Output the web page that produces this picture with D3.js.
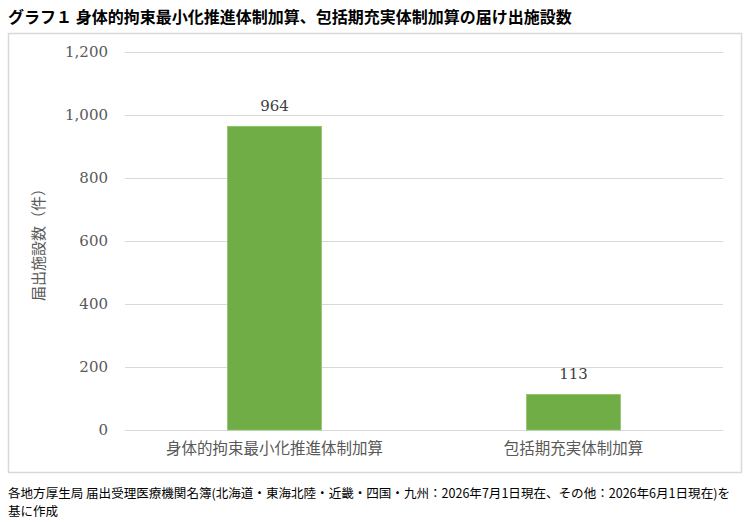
<!DOCTYPE html>
<html>
<head>
<meta charset="utf-8">
<script src="https://cdn.jsdelivr.net/npm/d3@7"></script>
<style>
  body { margin: 0; background: #fff; }
  svg { display: block; }
</style>
</head>
<body>
<div id="chart"></div>
<script>
"use strict";

var categories = ["身体的拘束最小化推進体制加算", "包括期充実体制加算"];
var counts = [964, 113];
var yTicks = [0, 200, 400, 600, 800, 1000, 1200];

var title = "グラフ１ 身体的拘束最小化推進体制加算、包括期充実体制加算の届け出施設数";
var yTitle = "届出施設数（件）";
var source = [
	"各地方厚生局 届出受理医療機関名簿(北海道・東海北陸・近畿・四国・九州：2026年7月1日現在、その他：2026年6月1日現在)を",
	"基に作成"
];

var W = 749, H = 524;
var jp = "'Noto Sans CJK JP', 'Noto Sans', sans-serif";
var serif = "'DejaVu Serif', 'Liberation Serif', serif";

var svg = d3.select("#chart").append("svg")
	.attr("width", W)
	.attr("height", H);

svg.append("text")
	.attr("x", 8)
	.attr("y", 23)
	.attr("font-family", jp)
	.attr("font-weight", "bold")
	.attr("font-size", "16px")
	.attr("fill", "#000")
	.text(title);

// chart frame
svg.append("rect")
	.attr("x", 8.5)
	.attr("y", 33.5)
	.attr("width", 733)
	.attr("height", 439)
	.attr("fill", "#fff")
	.attr("stroke", "#d9d9d9")
	.attr("stroke-width", 1.5);

var plotLeft = 125, plotRight = 723, plotTop = 52, plotBottom = 430;

var x = d3.scaleBand()
	.domain(categories)
	.range([plotLeft, plotRight])
	.paddingInner(0.686)
	.paddingOuter(0.343);

var y = d3.scaleLinear()
	.domain([0, 1200])
	.range([plotBottom, plotTop]);

// gridlines
svg.append("g")
	.selectAll("line")
	.data(yTicks)
	.enter()
	.append("line")
	.attr("x1", plotLeft)
	.attr("x2", plotRight)
	.attr("y1", function(d) { return Math.round(y(d)) + 0.5; })
	.attr("y2", function(d) { return Math.round(y(d)) + 0.5; })
	.attr("stroke", "#d9d9d9")
	.attr("stroke-width", 1.2);

// y axis labels
var yAxis = svg.append("g")
	.attr("transform", "translate(" + (plotLeft - 17) + ",0)")
	.call(d3.axisLeft(y).tickValues(yTicks).tickSize(0).tickPadding(0).tickFormat(d3.format(",")));
yAxis.select(".domain").remove();
yAxis.selectAll("text")
	.attr("font-family", serif)
	.attr("font-size", "15px")
	.attr("fill", "#595959");

// bars
svg.append("g")
	.selectAll("rect")
	.data(counts)
	.enter()
	.append("rect")
	.attr("x", function(d, i) { return x(categories[i]); })
	.attr("y", function(d) { return y(d); })
	.attr("width", x.bandwidth())
	.attr("height", function(d) { return plotBottom - y(d); })
	.attr("fill", "#70ad47")
	.attr("stroke", "#8cc468")
	.attr("stroke-width", 0.8);

// value labels
svg.append("g")
	.selectAll("text")
	.data(counts)
	.enter()
	.append("text")
	.attr("x", function(d, i) { return x(categories[i]) + x.bandwidth() / 2; })
	.attr("y", function(d) { return y(d) - 15; })
	.attr("text-anchor", "middle")
	.attr("font-family", serif)
	.attr("font-size", "15px")
	.attr("fill", "#404040")
	.text(function(d) { return d3.format(",")(d); });

// category labels
var xAxis = svg.append("g")
	.attr("transform", "translate(0," + plotBottom + ")")
	.call(d3.axisBottom(x).tickSize(0).tickPadding(13));
xAxis.select(".domain").remove();
xAxis.selectAll("text")
	.attr("font-family", jp)
	.attr("font-size", "15.5px")
	.attr("fill", "#595959");

// y title
svg.append("text")
	.attr("transform", "translate(44,241) rotate(-90)")
	.attr("text-anchor", "middle")
	.attr("font-family", jp)
	.attr("font-size", "15px")
	.attr("fill", "#595959")
	.text(yTitle);

// source
svg.append("g")
	.selectAll("text")
	.data(source)
	.enter()
	.append("text")
	.attr("x", 8)
	.attr("y", function(d, i) { return 498 + i * 18; })
	.attr("font-family", jp)
	.attr("font-size", "12.5px")
	.attr("fill", "#000")
	.attr("textLength", function(d, i) { return i === 0 ? 722 : null; })
	.attr("lengthAdjust", "spacingAndGlyphs")
	.text(function(d) { return d; });
</script>
</body>
</html>
